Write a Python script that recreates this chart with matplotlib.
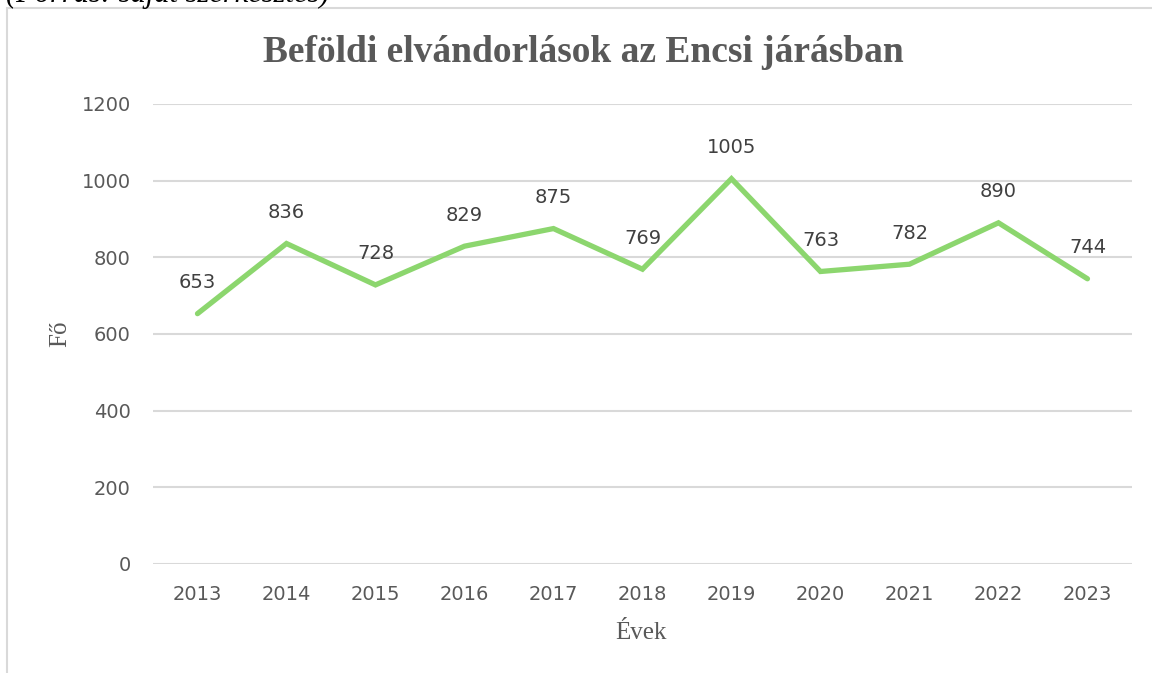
import matplotlib.pyplot as plt
from matplotlib.patches import Rectangle

# data
years = ['2013', '2014', '2015', '2016', '2017', '2018', '2019', '2020', '2021', '2022', '2023']
values = [653, 836, 728, 829, 875, 769, 1005, 763, 782, 890, 744]
y_ticks = [0, 200, 400, 600, 800, 1000, 1200]

fig = plt.figure(figsize=(11.52, 6.73), dpi=100)
ax = fig.add_axes([0.1328, 0.162, 0.8498, 0.6835])

# chart area border (cut by the image edges)
fig.patches.append(Rectangle((7 / 1152, -0.1), 1.2, 1 - 8 / 673 + 0.1,
                             transform=fig.transFigure, fill=False,
                             edgecolor='#d9d9d9', linewidth=1.5))

# source note, cut off at the top of the image
fig.text(0.005, 1 - 2 / 673, '(Forrás: saját szerkesztés)', fontsize=22,
         family='Liberation Serif', style='italic', color='black',
         va='baseline', ha='left')

x = list(range(len(years)))
ax.plot(x, values, color='#8cd66e', linewidth=3.8, solid_capstyle='round',
        solid_joinstyle='miter', zorder=3)

for xi, v in zip(x, values):
    ax.annotate(str(v), (xi, v), xytext=(0, 31), textcoords='offset pixels',
                ha='center', va='center', fontsize=14, color='#404040',
                family='DejaVu Sans')

ax.set_xlim(-0.5, len(years) - 0.5)
ax.set_ylim(0, 1200)
ax.set_yticks(y_ticks)
ax.set_xticks(x)
ax.set_xticklabels(years)
ax.grid(axis='y', color='#d9d9d9', linewidth=1.5)
ax.set_axisbelow(True)
for s in ax.spines.values():
    s.set_visible(False)
ax.tick_params(length=0, labelsize=14, labelcolor='#595959')
ax.tick_params(axis='y', pad=16)
ax.tick_params(axis='x', pad=15)

fig.text(583 / 1152, 1 - 53 / 673, 'Beföldi elvándorlások az Encsi járásban',
         fontsize=27, fontweight='bold', family='Liberation Serif',
         color='#595959', ha='center', va='center')
fig.text(60 / 1152, 1 - 334 / 673, 'Fő', fontsize=18, family='Liberation Serif',
         color='#595959', rotation=90, ha='center', va='center')
fig.text(641 / 1152, 1 - 633 / 673, 'Évek', fontsize=18, family='Liberation Serif',
         color='#595959', ha='center', va='center')

fig.savefig('out.png', dpi=100)
